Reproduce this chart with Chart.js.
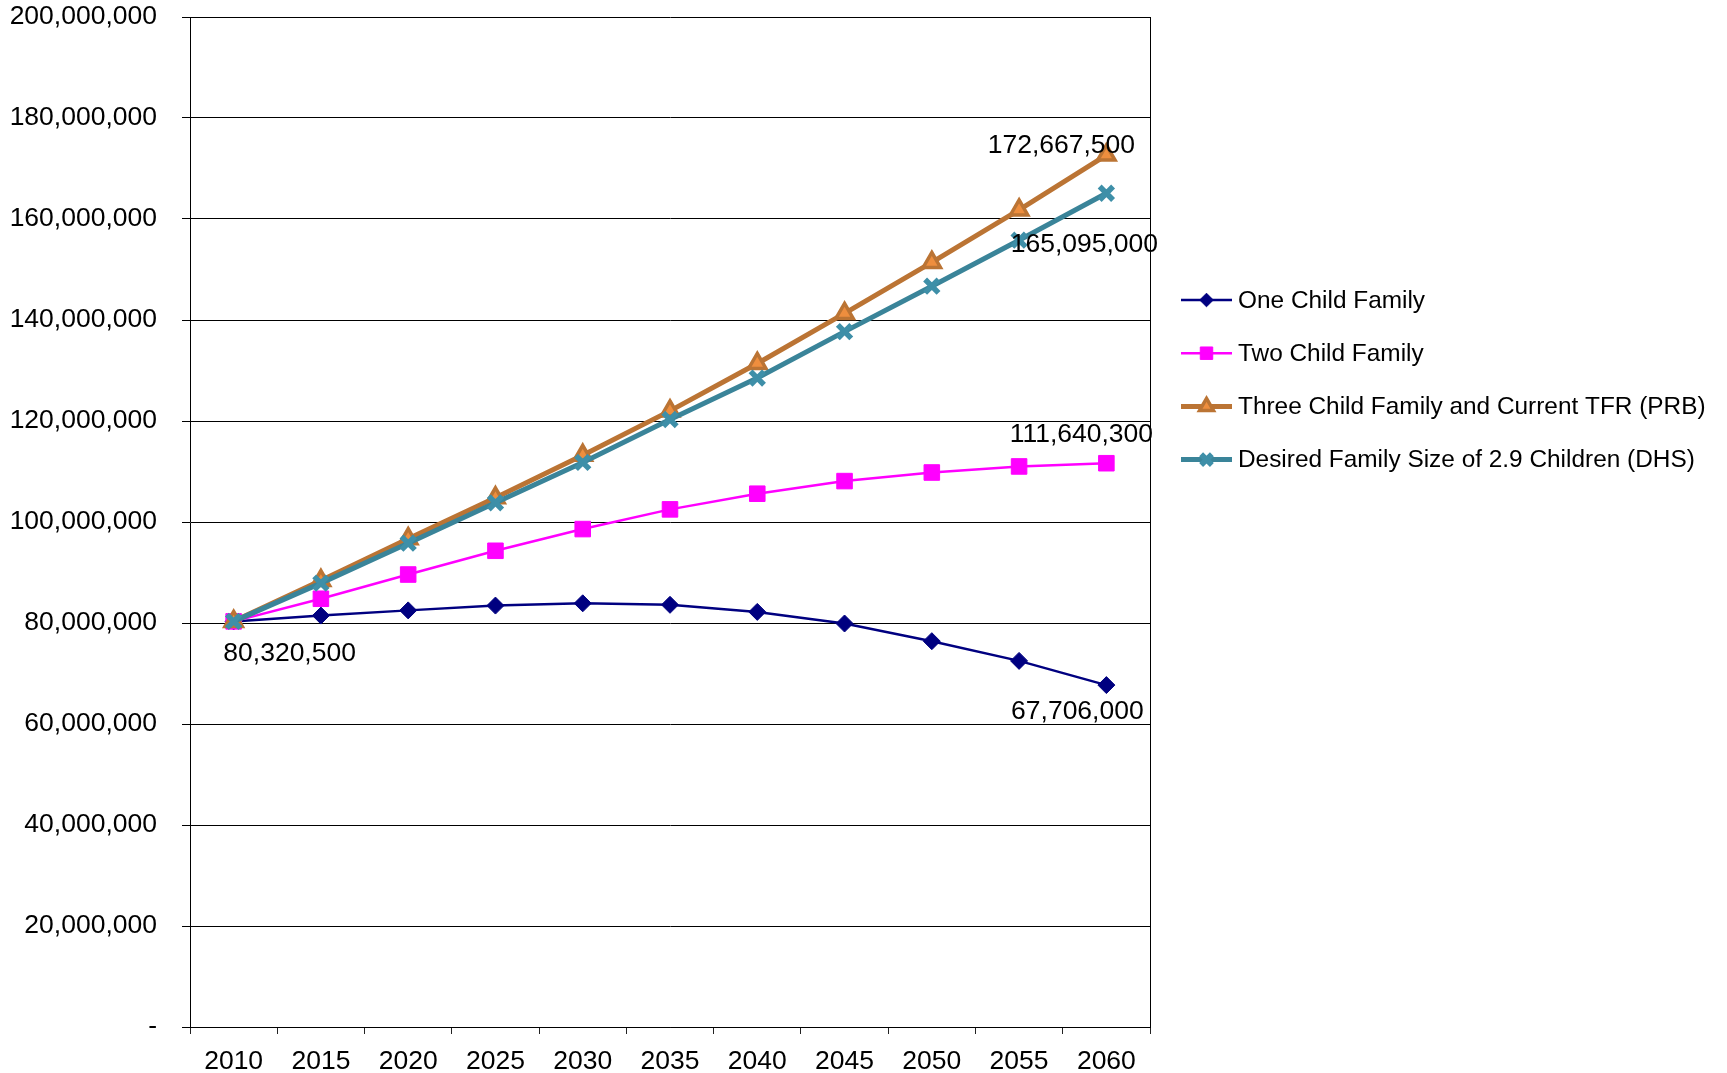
<!DOCTYPE html>
<html>
<head>
<meta charset="utf-8">
<script src="https://cdn.jsdelivr.net/npm/chart.js@4/dist/chart.umd.min.js"></script>
<style>
html,body{margin:0;padding:0;background:#fff;}
#wrap{width:1727px;height:1073px;position:relative;}
</style>
</head>
<body>
<div id="wrap"><canvas id="c" width="1727" height="1073"></canvas></div>
<script>
// ---- data ----
const years = ['2010','2015','2020','2025','2030','2035','2040','2045','2050','2055','2060'];
const seriesNames = ['One Child Family','Two Child Family','Three Child Family and Current TFR (PRB)','Desired Family Size of 2.9 Children (DHS)'];
const oneChild   = [80320500, 81470000, 82500000, 83450000, 83900000, 83600000, 82200000, 79900000, 76400000, 72500000, 67706000];
const twoChild   = [80320500, 84800000, 89600000, 94300000, 98600000, 102500000, 105600000, 108100000, 109800000, 111000000, 111640300];
const threeChild = [80320500, 88400000, 96700000, 104800000, 113200000, 122000000, 131400000, 141300000, 151400000, 161800000, 172667500];
const desired    = [80320500, 87900000, 95800000, 103800000, 111800000, 120300000, 128500000, 137700000, 146700000, 155800000, 165095000];
const yMin = 0, yMax = 200000000, yStep = 20000000;

// which points carry a value label (dataset index, point index) and label offsets
const pointLabels = [
  {ds:0, idx:0,  dx:56,  dy:32},
  {ds:0, idx:10, dx:-29, dy:27},
  {ds:1, idx:10, dx:-25, dy:-29},
  {ds:2, idx:10, dx:-45, dy:-9},
  {ds:3, idx:10, dx:-22, dy:51}
];

const FONT = '"Liberation Sans", Arial, Helvetica, sans-serif';
Chart.defaults.font.family = FONT;
Chart.defaults.color = '#000';

const labelPlugin = {
  id: 'pointLabels',
  afterDatasetsDraw(chart) {
    const ctx = chart.ctx;
    ctx.save();
    ctx.font = '26.5px ' + FONT;
    ctx.fillStyle = '#000';
    ctx.textAlign = 'center';
    ctx.textBaseline = 'middle';
    pointLabels.forEach(l => {
      const el = chart.getDatasetMeta(l.ds).data[l.idx];
      const v = chart.data.datasets[l.ds].data[l.idx];
      ctx.fillText(v.toLocaleString('en-US'), el.x + l.dx, el.y + l.dy);
    });
    ctx.restore();
  }
};

const legendPlugin = {
  id: 'lineLegend',
  afterDraw(chart) {
    const ctx = chart.ctx;
    const x0 = chart.chartArea.right + 31;
    const len = 51;
    const y0 = 300, step = 53.2;
    ctx.save();
    chart.data.datasets.forEach((ds, i) => {
      const y = y0 + i * step;
      ctx.strokeStyle = ds.borderColor;
      ctx.lineWidth = ds.borderWidth;
      ctx.beginPath();
      ctx.moveTo(x0, y);
      ctx.lineTo(x0 + len, y);
      ctx.stroke();
      ctx.fillStyle = ds.pointBackgroundColor;
      ctx.strokeStyle = ds.pointBorderColor;
      ctx.lineWidth = ds.pointBorderWidth;
      Chart.helpers.drawPoint(ctx, {pointStyle: ds.pointStyle, radius: ds.pointRadius * 0.8, rotation: 0, borderWidth: ds.pointBorderWidth}, x0 + len / 2, y);
      ctx.fillStyle = '#000';
      ctx.font = '24.4px ' + FONT;
      ctx.textAlign = 'left';
      ctx.textBaseline = 'middle';
      ctx.fillText(ds.label, x0 + len + 6, y + 1);
    });
    ctx.restore();
  }
};

new Chart(document.getElementById('c'), {
  type: 'line',
  data: {
    labels: years,
    datasets: [
      {label: seriesNames[0], data: oneChild, borderColor: '#000080', borderWidth: 2.5,
       pointStyle: 'rectRot', pointRadius: 8.5, pointBackgroundColor: '#000080', pointBorderColor: '#000080', pointBorderWidth: 1, order: 3},
      {label: seriesNames[1], data: twoChild, borderColor: '#FF00FF', borderWidth: 2.5,
       pointStyle: 'rect', pointRadius: 11, pointBackgroundColor: '#FF00FF', pointBorderColor: '#FF00FF', pointBorderWidth: 1, order: 2},
      {label: seriesNames[2], data: threeChild, borderColor: '#BB7434', borderWidth: 5,
       pointStyle: 'triangle', pointRadius: 10, pointBackgroundColor: '#EE8E3E', pointBorderColor: '#BB7434', pointBorderWidth: 3.5, order: 1},
      {label: seriesNames[3], data: desired, borderColor: '#3A8499', borderWidth: 5,
       pointStyle: 'crossRot', pointRadius: 9.5, pointBackgroundColor: '#3E8FA8', pointBorderColor: '#3E8FA8', pointBorderWidth: 5.5, order: 0}
    ]
  },
  options: {
    responsive: false,
    animation: false,
    devicePixelRatio: 1,
    layout: {padding: {left: 0, right: 577, top: 17, bottom: 0}},
    plugins: {legend: {display: false}, tooltip: {enabled: false}},
    elements: {line: {tension: 0}},
    scales: {
      x: {
        type: 'category',
        offset: true,
        grid: {
          offset: true,
          drawOnChartArea: true,
          color: c => c.type === 'scale' ? '#000' : 'rgba(0,0,0,0)',
          tickColor: '#222',
          tickLength: 7,
          lineWidth: 1
        },
        border: {display: true, color: '#000', width: 1},
        ticks: {font: {size: 26.5}, color: '#000', padding: 12, maxRotation: 0, autoSkip: false},
        afterFit: s => { s.height = 46; s.paddingLeft = 0; s.paddingRight = 0; }
      },
      y: {
        min: yMin, max: yMax,
        grid: {color: '#000', lineWidth: 1, tickLength: 8, tickColor: '#000'},
        border: {display: true, color: '#000', width: 1},
        ticks: {
          stepSize: yStep,
          font: {size: 26.5},
          color: '#000',
          padding: 25,
          callback: v => v === 0 ? '-' : Number(v).toLocaleString('en-US')
        },
        afterFit: s => { s.width = 190; s.paddingTop = 0; s.paddingBottom = 0; }
      }
    }
  },
  plugins: [labelPlugin, legendPlugin]
});
</script>
</body>
</html>
